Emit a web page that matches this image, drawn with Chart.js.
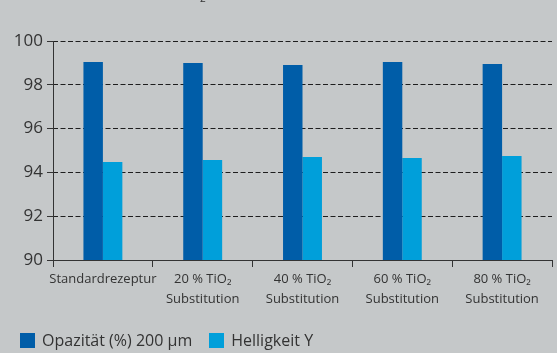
<!DOCTYPE html>
<html>
<head>
<meta charset="utf-8">
<script src="https://cdn.jsdelivr.net/npm/chart.js@4/dist/chart.umd.min.js"></script>
<style>
  html, body { margin: 0; padding: 0; background: #c5c8c9; }
  #wrap { position: relative; width: 557px; height: 353px; overflow: hidden; font-family: "Open Sans", sans-serif; color: #333; }
  #chart { position: absolute; left: 0; top: 0; }
  #cut { position: absolute; left: 200px; top: -9px; font-size: 10px; color: #333; }
  #legend { position: absolute; left: 20px; top: 333px; display: flex; font-size: 16px; line-height: 15px; }
  #legend .item { display: flex; align-items: center; margin-right: 17px; }
  #legend .box { width: 15px; height: 15px; margin-right: 7px; }
</style>
</head>
<body>
<div id="wrap">
  <canvas id="chart" width="557" height="353"></canvas>
  <div id="cut">2</div>
  <div id="legend"></div>
</div>
<script>
/* ── Daten ── */
const categories = [
    'Standardrezeptur',
    ['20 % TiO₂', 'Substitution'],
    ['40 % TiO₂', 'Substitution'],
    ['60 % TiO₂', 'Substitution'],
    ['80 % TiO₂', 'Substitution'],
];
const opazitaet = [99.04, 98.99, 98.90, 99.04, 98.95];
const helligkeit = [94.47, 94.57, 94.70, 94.66, 94.75];
const yTicks = [90, 92, 94, 96, 98, 100];

const seriesLabels = ['Opazität (%) 200 µm', 'Helligkeit Y'];
const seriesColors = ['#005da8', '#009fda'];

const ink = '#333';

const chart = new Chart(document.getElementById('chart'), {
    type: 'bar',
    data: {
        labels: categories,
        datasets: [
            { label: seriesLabels[0], data: opazitaet, backgroundColor: seriesColors[0], borderWidth: 0 },
            { label: seriesLabels[1], data: helligkeit, backgroundColor: seriesColors[1], borderWidth: 0 },
        ],
    },
    options: {
        responsive: false,
        animation: false,
        layout: { padding: { top: 41, right: 5, bottom: 0, left: 0 } },
        datasets: { bar: { categoryPercentage: 0.39, barPercentage: 1 } },
        plugins: { legend: { display: false }, tooltip: { enabled: false } },
        scales: {
            x: {
                grid: { drawOnChartArea: false, offset: true, color: ink, lineWidth: 1, tickLength: 7 },
                border: { color: ink, width: 1 },
                ticks: {
                    color: ink, padding: 3, maxRotation: 0, autoSkip: false,
                    font: { family: 'Open Sans', size: 13, lineHeight: 1.5 },
                },
                afterFit: s => { s.height = 93; },
            },
            y: {
                min: 90, max: 100,
                weight: 1,
                afterBuildTicks: s => { s.ticks = yTicks.map(v => ({ value: v })); },
                // gestrichelte Hilfslinien (border.dash gilt in v4 für das Gitter)
                grid: { color: '#1e1e1e', lineWidth: 1, tickLength: 6, tickColor: ink, tickBorderDash: [10, 0] },
                border: { display: false, dash: [5, 2.5] },
                ticks: { color: ink, padding: 4, font: { family: 'Open Sans', size: 17 } },
                afterFit: s => { s.width = 53; },
            },
            // durchgezogene Achsenlinie links, direkt am Diagramm
            yAxisLine: {
                position: 'left', min: 90, max: 100,
                weight: -1,
                grid: { display: false },
                ticks: { display: false },
                border: { color: ink, width: 1 },
                afterFit: s => { s.width = 0; },
            },
        },
    },
});

// Legende aus den Datensätzen
const legend = document.getElementById('legend');
chart.data.datasets.forEach(ds => {
    legend.innerHTML += `<div class="item"><div class="box" style="background:${ds.backgroundColor}"></div>${ds.label}</div>`;
});
</script>
</body>
</html>
